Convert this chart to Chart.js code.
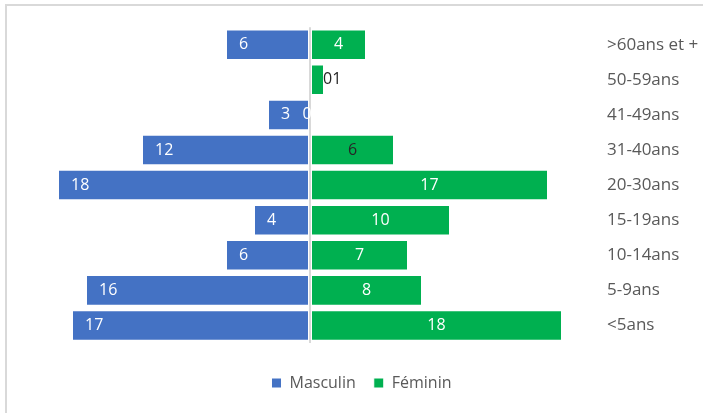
<!DOCTYPE html>
<html>
<head>
<meta charset="utf-8">
<script src="https://cdn.jsdelivr.net/npm/chart.js@4.4.1/dist/chart.umd.min.js"></script>
<style>
html, body { margin:0; padding:0; background:#fff; overflow:hidden; }
#wrap { position:relative; width:703px; height:413px; }
#frame { position:absolute; left:5px; top:4px; right:-10px; bottom:-10px;
  border-top:2px solid #d9d9d9; border-left:2px solid #d9d9d9; pointer-events:none; }
</style>
</head>
<body>
<div id="wrap"><canvas id="chart" width="703" height="413"></canvas><div id="frame"></div></div>
<script>
// data, top row first
const ageGroups = ['>60ans et +', '50-59ans', '41-49ans', '31-40ans', '20-30ans', '15-19ans', '10-14ans', '5-9ans', '<5ans'];
const masculin = [6, 0, 3, 12, 18, 4, 6, 16, 17];
const feminin  = [4, 1, 0, 6, 17, 10, 7, 8, 18];
const seriesNames = ['Masculin', 'Féminin'];
const axisMin = -20, axisMax = 20;

const FONT = '"Open Sans", "Noto Sans", sans-serif';
const values = [masculin, feminin];

// labels: masculin at the inner side of the outer end, féminin centred, tiny ones outside
const barLabels = {
  id: 'barLabels',
  afterDatasetsDraw(chart){
    const ctx = chart.ctx;
    const x0 = chart.scales.x.getPixelForValue(0);
    ctx.save();
    ctx.font = '16px ' + FONT;
    ctx.textBaseline = 'middle';
    ageGroups.forEach((g, i) => {
      const bars = [0, 1].map(d => chart.getDatasetMeta(d).data[i]);
      const widths = bars.map(b => Math.abs(b.x - b.base));
      const outside = [];
      let outX = x0;
      bars.forEach((bar, d) => {
        const v = values[d][i];
        const txt = String(v);
        const tw = ctx.measureText(txt).width;
        if (widths[d] >= tw + 6){
          ctx.fillStyle = (d === 1 && i === 3) ? '#262626' : '#fff';
          if (d === 0){
            ctx.textAlign = 'left';
            ctx.fillText(txt, bar.x + 13, bar.y);
          } else {
            ctx.textAlign = 'center';
            ctx.fillText(txt, (bar.x + bar.base) / 2, bar.y);
          }
        } else if (v === 0 && widths[1 - d] >= tw + 6){
          ctx.fillStyle = '#fff';
          ctx.textAlign = 'center';
          ctx.fillText(txt, x0 - 3, bar.y);
        } else {
          outside.push(txt);
          if (d === 1) outX = Math.max(outX, bar.x);
        }
      });
      if (outside.length){
        ctx.fillStyle = '#262626';
        ctx.textAlign = 'left';
        ctx.fillText(outside.join(''), outX - 1, bars[0].y);
      }
    });
    ctx.restore();
  }
};

// nudge the legend a little to the left, like the original
const legendShift = {
  id: 'legendShift',
  afterLayout(chart){
    const l = chart.legend;
    if (l){ l.left -= 5; l.right -= 5; }
  }
};

new Chart(document.getElementById('chart'), {
  type: 'bar',
  data: {
    labels: ageGroups,
    datasets: [
      { label: seriesNames[0], data: masculin.map(v => -v), backgroundColor: '#4472C4',
        borderColor: '#ffffff', borderWidth: 1, borderSkipped: false },
      { label: seriesNames[1], data: feminin, backgroundColor: '#00B050',
        borderColor: '#ffffff', borderWidth: 1, borderSkipped: false }
    ]
  },
  options: {
    indexAxis: 'y',
    responsive: false,
    animation: false,
    devicePixelRatio: 1,
    datasets: { bar: { categoryPercentage: 1, barPercentage: 0.87 } },
    layout: { padding: { left: 30, top: 27, right: 0, bottom: 12 } },
    scales: {
      x: {
        stacked: true, min: axisMin, max: axisMax,
        ticks: { display: false },
        border: { display: false },
        grid: {
          color: c => c.tick && c.tick.value === 0 ? '#d9d9d9' : 'rgba(0,0,0,0)',
          lineWidth: 2, tickLength: 14, tickColor: 'rgba(0,0,0,0)'
        }
      },
      y: {
        stacked: true, position: 'right',
        grid: { display: false, drawTicks: false },
        border: { display: false },
        ticks: { color: '#595959', font: { family: FONT, size: 17 }, padding: 17 },
        afterFit: s => { s.width = 113; }
      }
    },
    plugins: {
      legend: {
        position: 'bottom',
        labels: { boxWidth: 10, boxHeight: 10, padding: 18, color: '#595959',
          font: { family: FONT, size: 16 } }
      },
      tooltip: { enabled: false }
    }
  },
  plugins: [barLabels, legendShift]
});
</script>
</body>
</html>
